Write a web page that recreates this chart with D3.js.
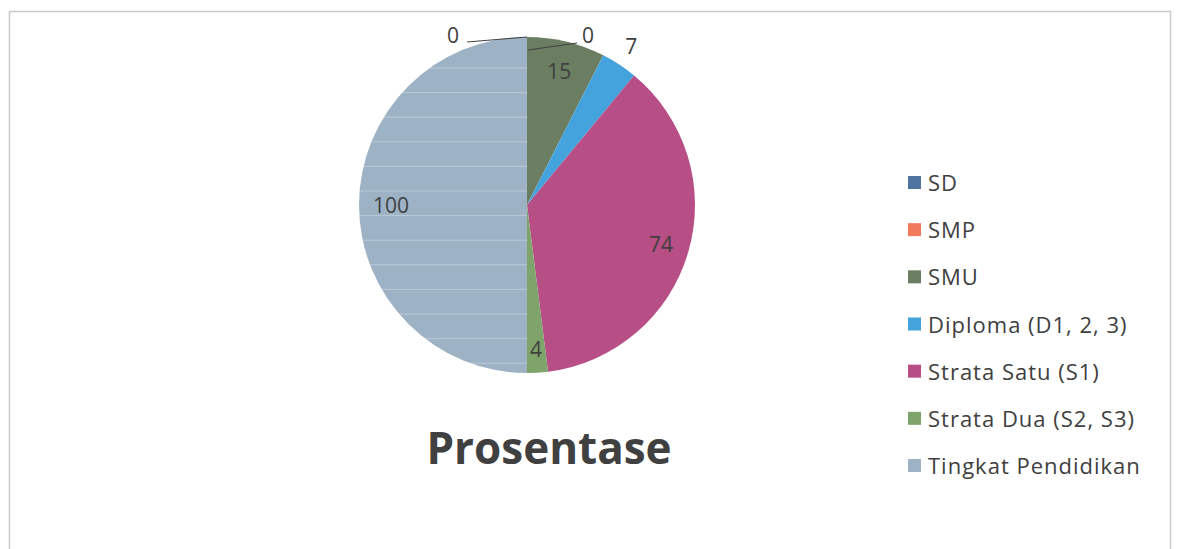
<!DOCTYPE html>
<html lang="id">
<head>
<meta charset="UTF-8">
<title>Prosentase</title>
<script src="https://cdn.jsdelivr.net/npm/d3@7"></script>
<style>
  body { margin: 0; background: #fff; }
  svg { display: block; }
</style>
</head>
<body>
<div class="chart"></div>
<script>
  // data
  let categories = ['SD', 'SMP', 'SMU', 'Diploma (D1, 2, 3)', 'Strata Satu (S1)', 'Strata Dua (S2, S3)', 'Tingkat Pendidikan']
  let values = [0, 0, 15, 7, 74, 4, 100]
  let colors = ['#4f74a0', '#f27a5c', '#6b7e62', '#44a2dc', '#b74e86', '#7ea36b', '#9eb2c5']
  let title = 'Prosentase'

  let W = 1178, H = 549
  let cx = 527, cy = 205, R = 168
  let font = '"Open Sans", sans-serif'

  let svg = d3.select('.chart').append('svg').attr('width', W).attr('height', H)
  svg.append('rect').attr('x', 9.5).attr('y', 11.5).attr('width', 1161).attr('height', 560)
    .attr('fill', '#fff').attr('stroke', '#c9c9c9').attr('stroke-width', 1.5)

  let data = categories.map((c, i) => ({ name: c, value: values[i], color: colors[i] }))
  let pie = d3.pie().value(d => d.value).sort(null)
  let arcs = pie(data)
  let arc = d3.arc().innerRadius(0).outerRadius(R)

  let g = svg.append('g').attr('transform', 'translate(' + cx + ',' + cy + ')')
  g.selectAll('path').data(arcs).enter().append('path')
    .attr('d', arc).attr('fill', d => d.data.color)

  // faint scan stripes over the big slice
  let big = arcs[6]
  g.append('clipPath').attr('id', 'bigclip').append('path').attr('d', arc(big))
  let stripes = d3.range(-137, 170, 24.6)
  g.append('g').attr('clip-path', 'url(#bigclip)').selectAll('line').data(stripes).enter().append('line')
    .attr('x1', -R).attr('x2', 0).attr('y1', d => d).attr('y2', d => d)
    .attr('stroke', '#ffffff').attr('stroke-opacity', 0.3).attr('stroke-width', 1)

  // label placement (radius factor along the slice mid-angle)
  let labelR = { 'SMU': 0.82, 'Diploma (D1, 2, 3)': 1.13, 'Strata Satu (S1)': 0.83, 'Strata Dua (S2, S3)': 0.86, 'Tingkat Pendidikan': 0.81 }
  let labels = g.append('g').attr('font-family', font).attr('font-size', 21).attr('fill', '#404040')

  arcs.forEach(a => {
    let mid = (a.startAngle + a.endAngle) / 2
    if (a.data.value === 0) return
    let r = R * labelR[a.data.name]
    labels.append('text')
      .attr('x', Math.sin(mid) * r).attr('y', -Math.cos(mid) * r)
      .attr('text-anchor', 'middle').attr('dominant-baseline', 'central')
      .text(a.data.value)
  })

  // zero slices: outside labels with leader lines
  let zeros = arcs.filter(a => a.data.value === 0)
  let zp = [
    { from: [0, -R], to: [-60, -163], lx: -68, ly: -170, anchor: 'end' },
    { from: [1, -155], to: [50, -162], lx: 55, ly: -170, anchor: 'start' }
  ]
  zeros.forEach((a, i) => {
    let p = zp[i]
    labels.append('line').attr('x1', p.from[0]).attr('y1', p.from[1]).attr('x2', p.to[0]).attr('y2', p.to[1])
      .attr('stroke', '#404040').attr('stroke-width', 1)
    labels.append('text').attr('x', p.lx).attr('y', p.ly).attr('text-anchor', p.anchor)
      .attr('dominant-baseline', 'central').text(a.data.value)
  })

  // title
  svg.append('text').attr('x', 549).attr('y', 464).attr('text-anchor', 'middle')
    .attr('font-family', font).attr('font-weight', 700).attr('font-size', 44)
    .attr('fill', '#404040').text(title)

  // legend
  let legendY = d3.scalePoint().domain(categories).range([182, 465])
  let lg = svg.append('g').attr('font-family', font).attr('font-size', 22).attr('letter-spacing', 1).attr('fill', '#404040')
  let item = lg.selectAll('g').data(data).enter().append('g')
    .attr('transform', d => 'translate(908,' + legendY(d.name) + ')')
  item.append('rect').attr('x', 0).attr('y', -6).attr('width', 13).attr('height', 13).attr('fill', d => d.color)
  item.append('text').attr('x', 20).attr('y', 0).attr('dominant-baseline', 'central').text(d => d.name)
</script>
</body>
</html>
